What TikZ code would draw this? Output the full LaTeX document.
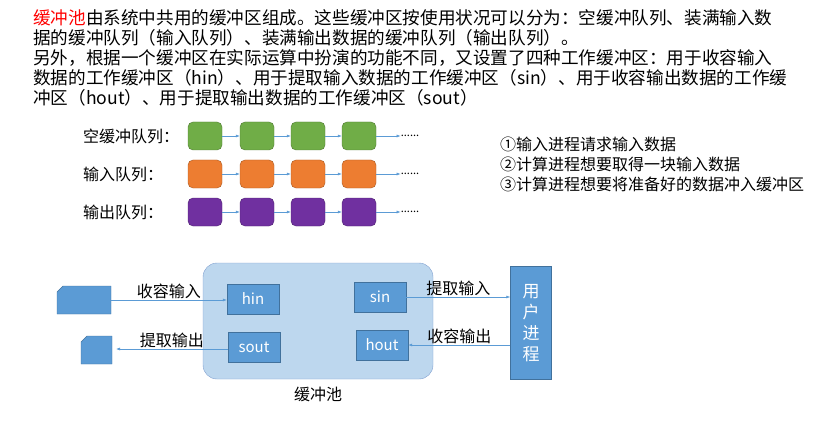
\documentclass[tikz,border=0pt]{standalone}
\usepackage{fontspec}
\setmainfont{Noto Sans CJK SC}
\usetikzlibrary{arrows.meta}
\definecolor{bl}{HTML}{5B9BD5}
\definecolor{bld}{HTML}{41719C}
\definecolor{pool}{HTML}{BDD7EE}
\definecolor{poold}{HTML}{7F9FCF}
\definecolor{gr}{HTML}{70AD47}
\definecolor{org}{HTML}{ED7D31}
\definecolor{pur}{HTML}{7030A0}
\tikzset{
 q/.style={draw=#1!70!black,fill=#1,rounded corners=5pt,minimum width=34pt,minimum height=28pt,inner sep=0},
 bb/.style={draw=bld,fill=bl,minimum width=52pt,minimum height=30pt,inner sep=0,text=white,font=\fontsize{15}{15}\selectfont},
 ar/.style={draw=bl,-{Latex[length=4pt,width=3pt]},line width=0.6pt},
 lab/.style={font=\fontsize{16}{16}\selectfont,inner sep=1pt},
 tl/.style={anchor=west,inner sep=0,font=\fontsize{17.6}{17.6}\selectfont}
}
\begin{document}
\begin{tikzpicture}[x=1pt,y=-1pt]
\useasboundingbox (0,0) rectangle (830,433);
\node[tl] (t1) at (33,18) {\textcolor{red}{缓冲池}由系统中共用的缓冲区组成。这些缓冲区按使用状况可以分为：空缓冲队列、装满输入数};
\node[tl] (t2) at (33,38) {据的缓冲队列（输入队列）、装满输出数据的缓冲队列（输出队列）。};
\node[tl] (t3) at (33,58) {另外，根据一个缓冲区在实际运算中扮演的功能不同，又设置了四种工作缓冲区：用于收容输入};
\node[tl] (t4) at (33,78) {数据的工作缓冲区（hin）、用于提取输入数据的工作缓冲区（sin）、用于收容输出数据的工作缓};
\node[tl] (t5) at (33,98) {冲区（hout）、用于提取输出数据的工作缓冲区（sout）};
% queues
\foreach \c/\y/\r/\t in {gr/136/a/空缓冲队列：,org/174/b/输入队列：,pur/212/c/输出队列：}{
 \node[lab,anchor=west] (l\r) at (82,\y) {\t};
 \node[q=\c] (\r1) at (205,\y) {};
 \node[q=\c] (\r2) at (257,\y) {};
 \node[q=\c] (\r3) at (308,\y) {};
 \node[q=\c] (\r4) at (359,\y) {};
 \node[inner sep=0,font=\fontsize{11}{11}\selectfont] (\r5) at (410,\y) {......};
 \draw[ar] (\r1) -- (\r2); \draw[ar] (\r2) -- (\r3); \draw[ar] (\r3) -- (\r4); \draw[ar] (\r4) -- (\r5);
}
\node[tl,font=\fontsize{16}{16}\selectfont] (n1) at (500,144) {①输入进程请求输入数据};
\node[tl,font=\fontsize{16}{16}\selectfont] (n2) at (500,164) {②计算进程想要取得一块输入数据};
\node[tl,font=\fontsize{16}{16}\selectfont] (n3) at (500,184) {③计算进程想要将准备好的数据冲入缓冲区};
% pool
\node[draw=poold,fill=pool,rounded corners=14pt,minimum width=230pt,minimum height=116pt,inner sep=0] (pool) at (318,321) {};
\node[lab] (pl) at (318,394) {缓冲池};
\node[bb] (hin) at (253,299) {hin};
\node[bb] (sin) at (380,297) {sin};
\node[bb] (sout) at (254,347) {sout};
\node[bb] (hout) at (382,345) {hout};
\node[draw=bld,fill=bl,minimum width=41pt,minimum height=113pt,inner sep=0,text=white,align=center,font=\fontsize{17}{21}\selectfont] (user) at (531,323) {用\\户\\进\\程};
\draw[draw=bld,fill=bl] (57,292) -- (63,286) -- (111,286) -- (111,314) -- (57,314) -- cycle;
\coordinate (s1) at (111,300);
\draw[draw=bld,fill=bl] (81,342) -- (87,336) -- (112,336) -- (112,364) -- (81,364) -- cycle;
\coordinate (s2) at (116,349);
\draw[ar] (s1) -- node[lab,above] {收容输入} (hin.west|-s1);
\draw[ar] (sout.west|-s2) -- node[lab,above] {提取输出} (s2);
\draw[ar] (sin.east) -- node[lab,above] {提取输入} (user.west|-sin.east);
\draw[ar] (user.west|-hout.east) -- node[lab,above] {收容输出} (hout.east);
\end{tikzpicture}
\end{document}
